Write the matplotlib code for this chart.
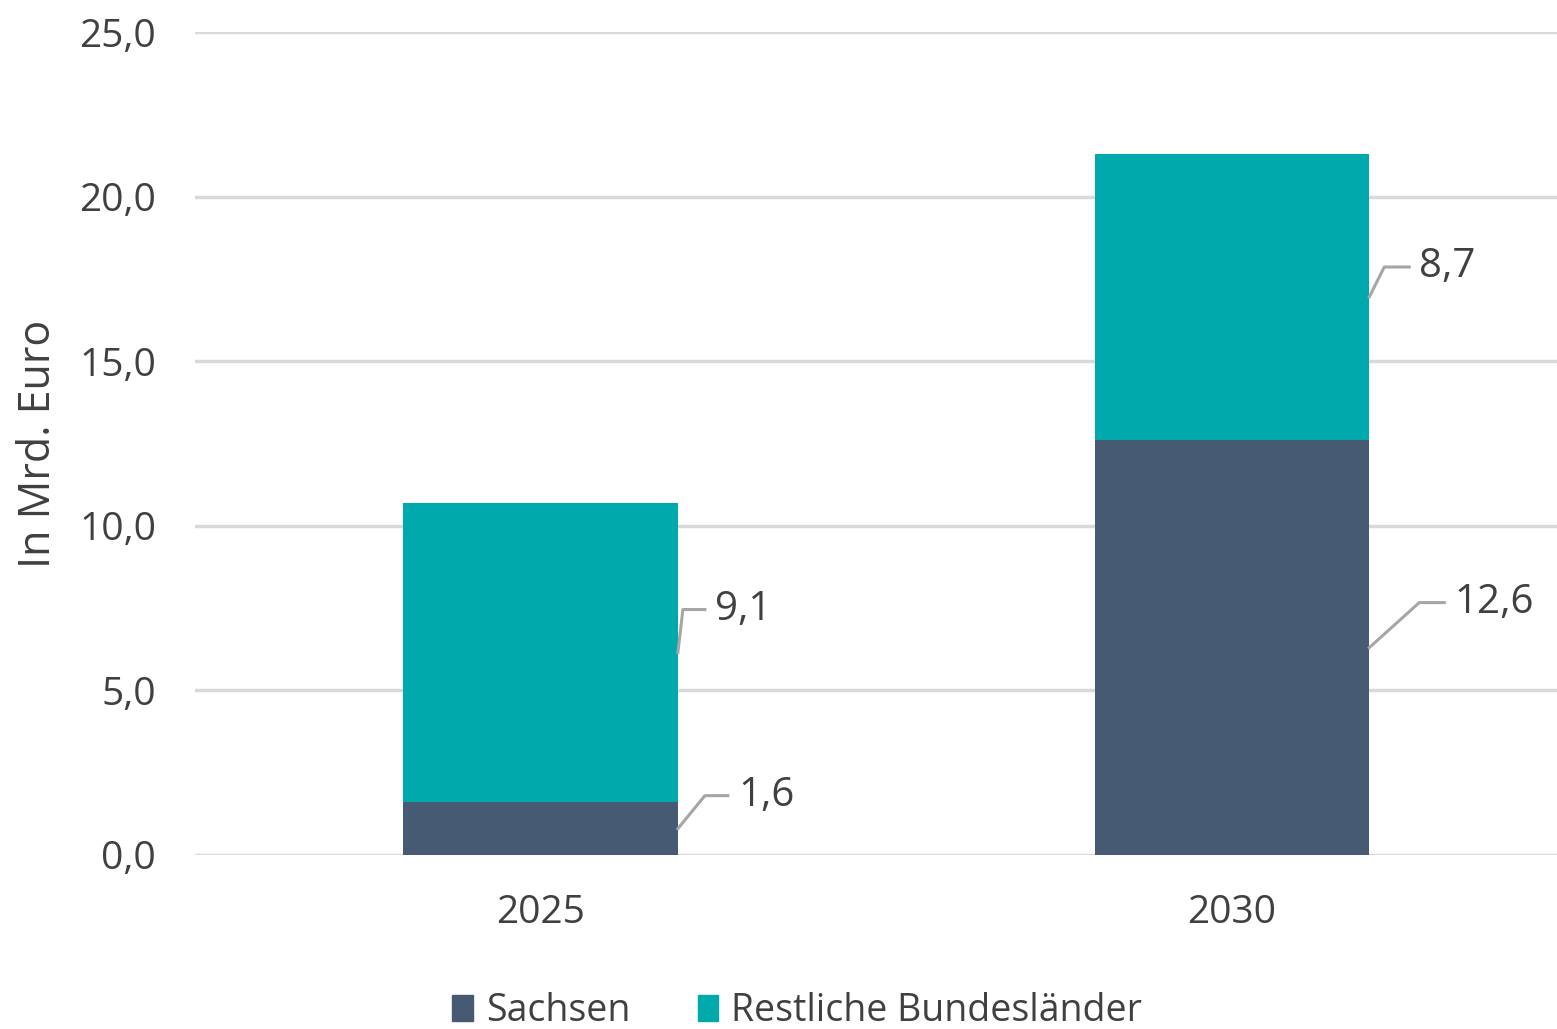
import matplotlib
matplotlib.use("Agg")
import matplotlib.pyplot as plt
from matplotlib.lines import Line2D
from matplotlib.patches import Patch
from matplotlib.ticker import FuncFormatter

# data
years = ["2025", "2030"]
sachsen = [1.6, 12.6]
restliche = [9.1, 8.7]
series_names = ["Sachsen", "Restliche Bundesländer"]

COL_SACHSEN = "#465a74"
COL_REST = "#00a9ab"
TEXT = "#404040"

plt.rcParams["font.family"] = ["Open Sans", "DejaVu Sans"]

fig = plt.figure(figsize=(15.57, 10.29), dpi=100)
ax = fig.add_axes([0.1252, 0.1691, 0.8748, 0.7998])

x = range(len(years))
width = 0.397
ax.bar(x, sachsen, width, color=COL_SACHSEN, zorder=3)
ax.bar(x, restliche, width, bottom=sachsen, color=COL_REST, zorder=3)

ax.set_xlim(-0.5, 1.47)
ax.set_ylim(0, 25)
ax.set_yticks([0, 5, 10, 15, 20, 25])
ax.yaxis.set_major_formatter(FuncFormatter(lambda v, p: f"{v:.1f}".replace(".", ",")))
ax.set_xticks(list(x))
ax.set_xticklabels(years)
ax.tick_params(axis="both", length=0, labelsize=28, colors=TEXT)
ax.tick_params(axis="y", pad=28)
ax.tick_params(axis="x", pad=28)
for s in ax.spines.values():
    s.set_visible(False)
ax.grid(axis="y", color="#d9d9d9", linewidth=2.5, zorder=0)
ax.set_ylabel("In Mrd. Euro", fontsize=31, color=TEXT)
ax.yaxis.set_label_coords(-0.098, 0.5)

# data labels with leader lines (offsets in pixels: dx, dy, horizontal run)
fig.canvas.draw()
offsets = {
    (0, "s"): (27, 33, 23),
    (0, "r"): (5, 43, 22),
    (1, "s"): (50, 45, 25),
    (1, "r"): (15, 30, 25),
}
for i in x:
    for key, bottom, val in (("s", 0, sachsen[i]), ("r", sachsen[i], restliche[i])):
        mid = bottom + val / 2
        px, py = ax.transData.transform((i + width / 2, mid))
        dx, dy, run = offsets[(i, key)]
        xs = [px, px + dx, px + dx + run]
        ys = [py, py + dy, py + dy]
        fig.lines.append(Line2D(xs, ys, transform=None, color="#a6a6a6", linewidth=2.2))
        fx, fy = fig.transFigure.inverted().transform((px + dx + run + 10, py + dy))
        fig.text(fx, fy, f"{val:.1f}".replace(".", ","), fontsize=29, color=TEXT,
                 ha="left", va="center")

handles = [Patch(color=COL_SACHSEN), Patch(color=COL_REST)]
fig.legend(handles, series_names, loc="lower center", bbox_to_anchor=(0.512, -0.034),
           ncol=2, frameon=False, fontsize=27, handlelength=0.55, handleheight=0.7,
           handletextpad=0.35, columnspacing=1.8, labelcolor=TEXT)

fig.savefig("out.png", dpi=100, facecolor="white")
